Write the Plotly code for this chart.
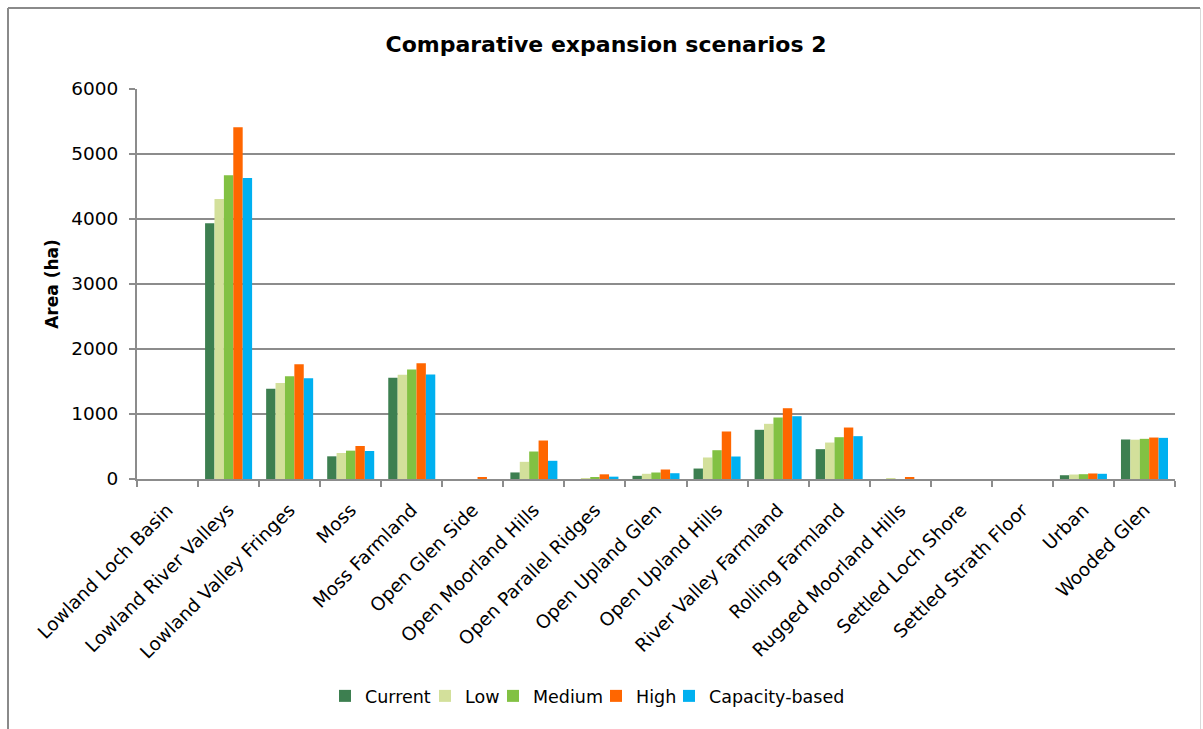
import plotly.graph_objects as go

categories = [
    "Lowland Loch Basin", "Lowland River Valleys", "Lowland Valley Fringes", "Moss",
    "Moss Farmland", "Open Glen Side", "Open Moorland Hills", "Open Parallel Ridges",
    "Open Upland Glen", "Open Upland Hills", "River Valley Farmland", "Rolling Farmland",
    "Rugged Moorland Hills", "Settled Loch Shore", "Settled Strath Floor", "Urban",
    "Wooded Glen",
]

current = [0, 3935, 1390, 349, 1557, 0, 101, 0, 49, 161, 757, 459, 0, 0, 0, 58, 608]
low = [0, 4308, 1477, 400, 1603, 0, 264, 12, 80, 331, 849, 561, 12, 0, 0, 69, 605]
medium = [0, 4672, 1580, 436, 1685, 0, 423, 22, 100, 443, 946, 643, 0, 0, 0, 74, 618]
high = [0, 5410, 1764, 508, 1782, 20, 592, 72, 146, 731, 1089, 792, 20, 0, 0, 85, 638]
capacity = [0, 4631, 1549, 431, 1608, 0, 280, 36, 89, 346, 966, 659, 0, 0, 0, 80, 633]

series = [
    ("Current", current, "#3d7f50"),
    ("Low", low, "#d3e09b"),
    ("Medium", medium, "#82c143"),
    ("High", high, "#ff6600"),
    ("Capacity-based", capacity, "#00b0f0"),
]

FONT = "DejaVu Sans, Verdana, sans-serif"
GRID = "#8c8c8c"

# plot area in pixels: x 137..1175, y 89..479
L, R, T, B = 137, 28, 89, 250
W, H = 1203 - L - R, 729 - T - B


def px_x(p):
    return (p - L) / W


def px_y(p):
    return (729 - B - p) / H


# left pixel of each legend entry's text; one legend box per series
legend_text_x = [365, 465, 533, 636, 709]
legend_ids = ["legend", "legend2", "legend3", "legend4", "legend5"]

fig = go.Figure()
for (name, vals, color), lid in zip(series, legend_ids):
    fig.add_trace(go.Bar(
        name=name, x=categories, y=vals,
        marker=dict(color=color, line=dict(width=0)),
        legend=lid,
    ))

legend_layout = {}
for lid, tx in zip(legend_ids, legend_text_x):
    legend_layout[lid] = dict(
        x=px_x(tx - 40), xanchor="left",
        y=px_y(696), yanchor="middle",
        font=dict(family=FONT, size=17.5),
        itemwidth=30, bgcolor="rgba(0,0,0,0)", borderwidth=0,
    )

fig.update_layout(
    width=1203, height=729,
    margin=dict(l=L, r=R, t=T, b=B, autoexpand=False),
    paper_bgcolor="white", plot_bgcolor="white",
    barmode="group", bargap=0.23, bargroupgap=0,
    font=dict(family=FONT, size=18, color="#000000"),
    title=dict(
        text="<b>Comparative expansion scenarios 2</b>",
        x=px_x(606), xref="paper", xanchor="center",
        y=1 - 44 / 729, yref="container", yanchor="middle",
        font=dict(family=FONT, size=22, color="#000000"),
    ),
    showlegend=True,
    xaxis=dict(
        type="category", tickson="boundaries", tickangle=-45,
        showline=True, linecolor=GRID, linewidth=2,
        ticks="outside", ticklen=6, tickcolor=GRID, tickwidth=2,
        showgrid=False, tickfont=dict(family=FONT, size=18.5),
        ticklabelstandoff=11,
    ),
    yaxis=dict(
        range=[0, 6000], dtick=1000,
        showline=True, linecolor=GRID, linewidth=2,
        ticks="outside", ticklen=6, tickcolor=GRID, tickwidth=2,
        showgrid=True, gridcolor=GRID, gridwidth=2,
        zeroline=False,
        tickfont=dict(family=FONT, size=18.5),
        ticklabelstandoff=7,
        title=dict(text="<b>Area (ha)</b>", font=dict(family=FONT, size=17), standoff=8),
    ),
    shapes=[
        dict(type="line", xref="paper", yref="paper",
             x0=px_x(8), x1=px_x(1200), y0=px_y(8), y1=px_y(8),
             line=dict(color="#8a8a8a", width=2)),
        dict(type="line", xref="paper", yref="paper",
             x0=px_x(8), x1=px_x(8), y0=px_y(8), y1=px_y(740),
             line=dict(color="#8a8a8a", width=2)),
        dict(type="line", xref="paper", yref="paper",
             x0=px_x(1200.5), x1=px_x(1200.5), y0=px_y(8), y1=px_y(740),
             line=dict(color="#d9d9d9", width=1)),
    ],
    **legend_layout,
)

fig.write_html("out.html")
